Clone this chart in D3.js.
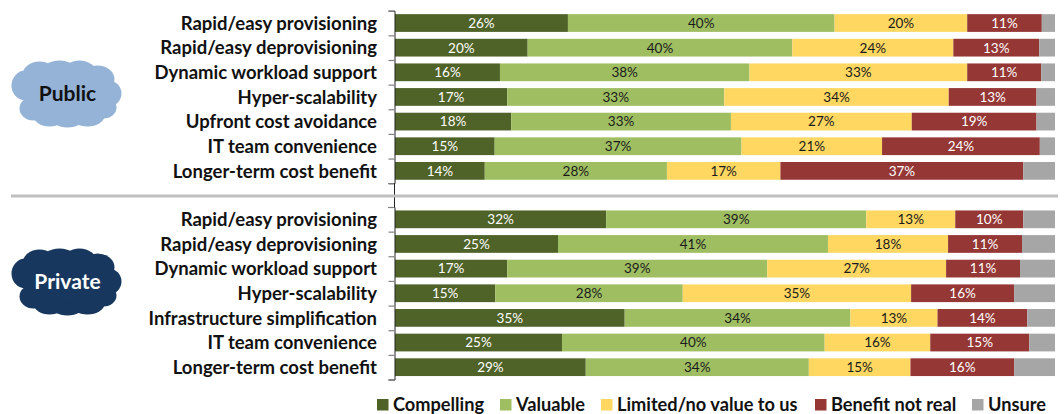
<!DOCTYPE html>
<html>
<head>
<meta charset="utf-8">
<script src="https://cdn.jsdelivr.net/npm/d3@7"></script>
<style>
html, body { margin: 0; padding: 0; background: #fff; }
text { font-family: Lato, "Open Sans", sans-serif; }
</style>
</head>
<body>
<div id="chart"></div>
<script>
var seriesNames = ["Compelling", "Valuable", "Limited/no value to us", "Benefit not real", "Unsure"];
var seriesColors = ["#4f6228", "#9fbe62", "#ffd761", "#953735", "#a6a6a6"];
var labelColors = ["#ffffff", "#1a1a1a", "#1a1a1a", "#ffffff", null];

var publicCategories = ["Rapid/easy provisioning", "Rapid/easy deprovisioning", "Dynamic workload support", "Hyper-scalability", "Upfront cost avoidance", "IT team convenience", "Longer-term cost benefit"];
var publicCompelling = [26.2, 20.1, 15.9, 17.0, 17.6, 15.1, 13.6];
var publicValuable = [40.4, 40.1, 37.8, 32.9, 33.3, 37.4, 27.6];
var publicLimited = [20.1, 24.4, 33.0, 34.0, 27.4, 21.3, 17.2];
var publicNotReal = [11.3, 13.0, 11.2, 13.3, 18.9, 23.9, 36.8];
var publicUnsure = [2.0, 2.4, 2.1, 2.8, 2.8, 2.3, 4.8];

var privateCategories = ["Rapid/easy provisioning", "Rapid/easy deprovisioning", "Dynamic workload support", "Hyper-scalability", "Infrastructure simplification", "IT team convenience", "Longer-term cost benefit"];
var privateCompelling = [32.0, 24.7, 17.0, 15.2, 34.8, 25.3, 28.9];
var privateValuable = [39.4, 40.9, 39.4, 28.4, 34.2, 39.8, 33.8];
var privateLimited = [13.49, 18.2, 27.1, 34.6, 13.2, 16.0, 15.4];
var privateNotReal = [10.3, 11.2, 11.2, 15.6, 13.6, 15.0, 15.7];
var privateUnsure = [4.81, 5.0, 5.3, 6.2, 4.2, 3.9, 6.2];

var width = 1064, height = 414;
var x = d3.scaleLinear().domain([0, 100]).range([395, 1055]);

var svg = d3.select("#chart").append("svg")
  .attr("width", width)
  .attr("height", height)
  .style("display", "block");

function make_panel(categories, values, top, bottom){
  var y = d3.scaleBand().domain(categories.map(function(d, i){ return i; }))
    .range([top, bottom]).paddingInner(0.28).paddingOuter(0.14);
  var edge = d3.scaleLinear().domain([0, categories.length]).range([top, bottom]);
  var g = svg.append("g");

  values.forEach(function(serie, s){
    var row = g.append("g");
    categories.forEach(function(c, i){
      var start = d3.sum(values.slice(0, s), function(v){ return v[i]; });
      row.append("rect")
        .attr("x", x(start))
        .attr("y", y(i))
        .attr("width", x(start + serie[i]) - x(start))
        .attr("height", y.bandwidth())
        .attr("fill", seriesColors[s]);
      if (labelColors[s]){
        row.append("text")
          .attr("x", x(start + serie[i] / 2))
          .attr("y", y(i) + y.bandwidth() / 2)
          .attr("dy", "0.36em")
          .attr("text-anchor", "middle")
          .attr("font-size", 13.5)
          .attr("fill", labelColors[s])
          .text(Math.round(serie[i]) + "%");
      }
    });
  });

  // tick marks sit on the band edges, names sit in the band middle
  g.append("g")
    .attr("transform", "translate(394.5,0)")
    .call(d3.axisLeft(edge).ticks(categories.length).tickSize(6).tickFormat(""))
    .call(function(a){
      a.selectAll(".tick line").attr("stroke", "#7f7f7f").attr("stroke-width", 1.2);
      a.select(".domain").attr("stroke", "#222");
    });
  var names = g.append("g")
    .attr("transform", "translate(377,0.8)")
    .call(d3.axisLeft(y).tickSize(0).tickPadding(0).tickFormat(function(d){ return categories[d]; }));
  names.select(".domain").remove();
  names.selectAll("text")
    .attr("font-family", "Lato, sans-serif")
    .attr("font-size", 18.5)
    .attr("font-weight", 700)
    .attr("fill", "#111");
}

make_panel(publicCategories, [publicCompelling, publicValuable, publicLimited, publicNotReal, publicUnsure], 10.7, 183.2);
make_panel(privateCategories, [privateCompelling, privateValuable, privateLimited, privateNotReal, privateUnsure], 207, 379.5);

// joins the two axes across the gap
svg.append("line")
  .attr("x1", 394.5).attr("x2", 394.5).attr("y1", 183).attr("y2", 207)
  .attr("stroke", "#222");

svg.append("line")
  .attr("x1", 11).attr("x2", 1058).attr("y1", 196).attr("y2", 196)
  .attr("stroke", "#bfbfbf").attr("stroke-width", 3);

// clouds
var puffs = [[-42,-8,14,15],[-28,-18,17,14],[-8,-21,18,12],[12,-20,17,13],[30,-14,17,14],[41,0,13,13],[36,14,13,11],[20,22,17,11],[0,24,17,10],[-18,22,16,11],[-34,15,14,12],[0,0,42,22]];

function make_cloud(cx, cy, fill, name, textColor){
  var g = svg.append("g").attr("transform", "translate(" + cx + "," + cy + ")");
  g.selectAll("ellipse").data(puffs).enter().append("ellipse")
    .attr("cx", function(d){ return d[0]; })
    .attr("cy", function(d){ return d[1]; })
    .attr("rx", function(d){ return d[2]; })
    .attr("ry", function(d){ return d[3]; })
    .attr("fill", fill);
  g.append("text")
    .attr("text-anchor", "middle")
    .attr("dy", "0.36em")
    .attr("font-size", 21)
    .attr("font-weight", 700)
    .attr("fill", textColor)
    .text(name);
}
make_cloud(67.5, 93.5, "#95b3d7", "Public", "#111");
make_cloud(67.5, 281.5, "#17375e", "Private", "#fff");

// legend
var legendX = [377, 500, 601, 815, 972];
seriesNames.forEach(function(name, i){
  svg.append("rect")
    .attr("x", legendX[i]).attr("y", 399)
    .attr("width", 11.5).attr("height", 11.5)
    .attr("fill", seriesColors[i]);
  svg.append("text")
    .attr("x", legendX[i] + 16).attr("y", 410.5)
    .attr("font-size", 18.2)
    .attr("font-weight", 700)
    .attr("fill", "#111")
    .text(name);
});
</script>
</body>
</html>
